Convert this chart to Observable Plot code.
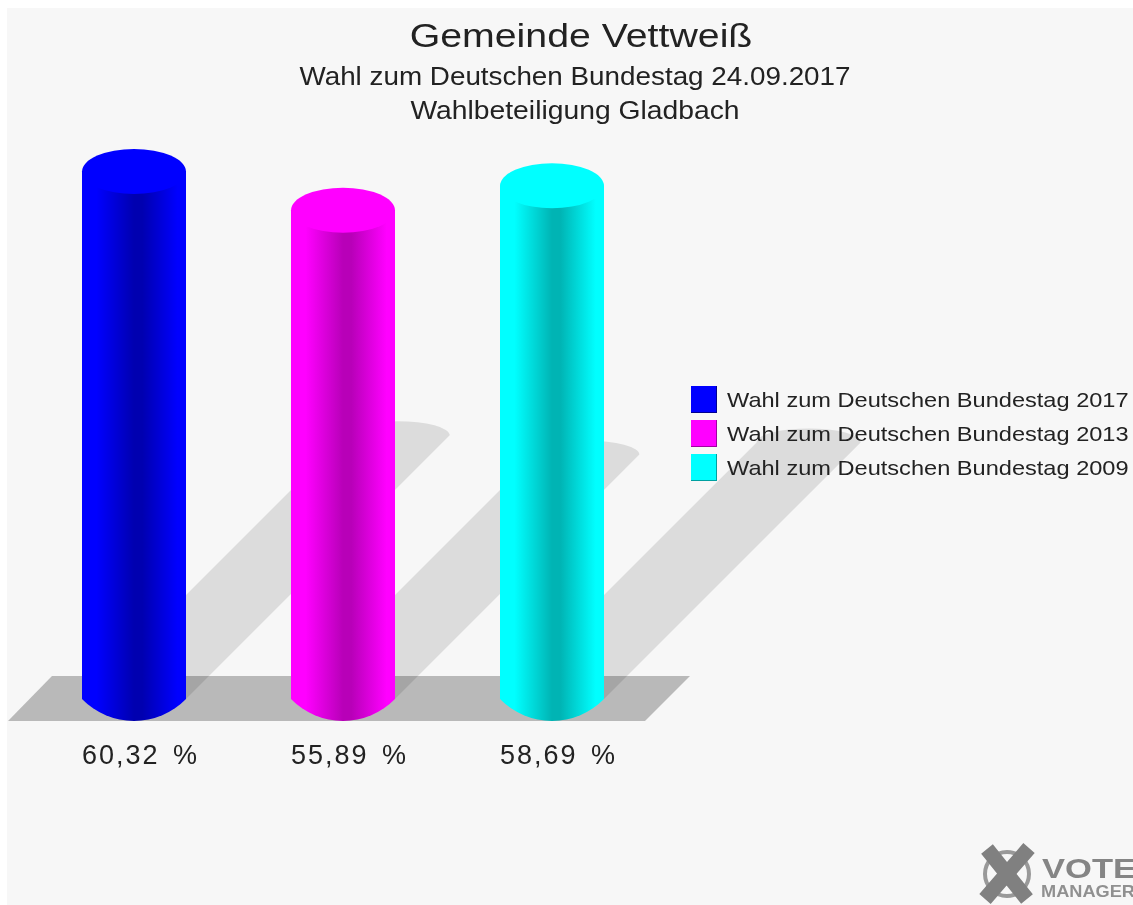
<!DOCTYPE html>
<html lang="de">
<head>
<meta charset="utf-8">
<script src="https://cdn.jsdelivr.net/npm/d3@7"></script>
<script src="https://cdn.jsdelivr.net/npm/@observablehq/plot@0.6"></script>
<style>
html,body{margin:0;padding:0;background:#fff;overflow:hidden}
#page{position:relative;width:1133px;height:905px;overflow:hidden;font-family:"Liberation Sans",Arial,sans-serif;color:#222;filter:blur(.45px)}
#panel{position:absolute;left:7px;top:8px;right:0;bottom:0;background:#f7f7f7}
#chart{position:absolute;left:0;top:0;width:1133px;height:905px}
#chart svg{display:block;max-width:none}
#chart text{letter-spacing:2px;word-spacing:4px}
.t{position:absolute;white-space:nowrap}
.lg{position:absolute;left:691px;height:27px;white-space:nowrap}
.lg i{position:absolute;left:0;top:0;display:block;width:26px;height:27px;box-sizing:border-box;border-right:1px solid;border-bottom:1px solid}
.lg span{position:absolute;left:36px;top:0;line-height:27px;font-size:21px;transform-origin:0 50%;transform:scaleX(1.123)}
#logo{position:absolute;left:0;top:0}
</style>
</head>
<body>
<div id="page">
<div id="panel"></div>
<div id="chart"></div>
<div class="t" style="left:581px;top:36px;font-size:33px;transform:translate(-50%,-50%) scaleX(1.19)">Gemeinde Vettweiß</div>
<div class="t" style="left:575px;top:76px;font-size:26px;transform:translate(-50%,-50%) scaleX(1.07)">Wahl zum Deutschen Bundestag 24.09.2017</div>
<div class="t" style="left:575px;top:110px;font-size:26px;transform:translate(-50%,-50%) scaleX(1.088)">Wahlbeteiligung Gladbach</div>
<div id="legend"></div>
<svg id="logo" width="1133" height="905">
  <circle cx="1007" cy="874" r="22" fill="none" stroke="#999" stroke-width="4"/>
  <path d="M987 849L1027 899M1029 848L985 899" stroke="#808080" stroke-width="15" fill="none"/>
  <text x="1042" y="878" font-family="Liberation Sans" font-weight="700" font-size="28" fill="#858585" textLength="94" lengthAdjust="spacingAndGlyphs">VOTE</text>
  <text x="1041" y="897" font-family="Liberation Sans" font-weight="700" font-size="16.5" fill="#909090" textLength="94" lengthAdjust="spacingAndGlyphs">MANAGER</text>
</svg>
</div>
<script>
const years = ["2017", "2013", "2009"];
const turnout = [60.32, 55.89, 58.69];
const valueLabels = ["60,32 %", "55,89 %", "58,69 %"];
const barColors = ["#0000ff", "#ff00ff", "#00ffff"];
const darkColors = ["#0000b0", "#b800b8", "#00b4b4"];
const edgeColors = ["#000090", "#a000a0", "#00a0a0"];
const legendLabels = [
  "Wahl zum Deutschen Bundestag 2017",
  "Wahl zum Deutschen Bundestag 2013",
  "Wahl zum Deutschen Bundestag 2009"
];
const legendTops = [386, 420, 454];

const rows = years.map((year, i) => ({year, value: turnout[i], label: valueLabels[i], i}));

const svgEl = (name) => document.createElementNS("http://www.w3.org/2000/svg", name);

function gradients() {
  const defs = d3.select(svgEl("defs"));
  rows.forEach(r => {
    const g = defs.append("linearGradient").attr("id", "cyl" + r.year);
    [[0, barColors[r.i]], [0.14, barColors[r.i]], [0.5, darkColors[r.i]], [0.58, darkColors[r.i]], [0.92, barColors[r.i]], [1, barColors[r.i]]]
      .forEach(([o, c]) => g.append("stop").attr("offset", o).attr("stop-color", c));
  });
  return defs.node();
}

function floor(index, {x, y}) {
  const left = x(years[0]), right = x(years[2]) + x.bandwidth();
  const y0 = y(0), bottom = y0 + 22, top = y0 - 23;
  const d = `M${left - 74},${bottom}L${left - 30},${top}L${right + 86},${top}L${right + 41},${bottom}Z`;
  return d3.select(svgEl("path")).attr("d", d).attr("fill", "#b9b9b9").node();
}

function shadows(index, {x, y}) {
  const g = d3.select(svgEl("g"));
  rows.forEach(r => {
    const x0 = x(r.year), x1 = x0 + x.bandwidth(), y0 = y(0);
    const s = (y0 - y(r.value)) / 2;
    g.append("path")
      .attr("d", `M${x0},${y0}L${x0 + s},${y0 - s}A${x.bandwidth() / 2},14 0 0 1 ${x1 + s},${y0 - s}L${x1},${y0}Z`)
      .attr("fill", "#000").attr("fill-opacity", 0.105);
  });
  return g.node();
}

function caps(index, {x, y}) {
  const g = d3.select(svgEl("g"));
  rows.forEach(r => {
    const x0 = x(r.year), w = x.bandwidth(), y0 = y(0);
    g.append("path")
      .attr("d", `M${x0},${y0}A72.5,72.5 0 0 0 ${x0 + w},${y0}Z`)
      .attr("fill", `url(#cyl${r.year})`);
    g.append("ellipse")
      .attr("cx", x0 + w / 2).attr("cy", y(r.value))
      .attr("rx", w / 2).attr("ry", 22.5)
      .attr("fill", barColors[r.i]);
  });
  return g.node();
}

const plot = Plot.plot({
  width: 1133,
  height: 905,
  margin: 0,
  style: {background: "transparent", overflow: "visible"},
  x: {axis: null, domain: years, range: [82, 604], paddingInner: 0.5024, paddingOuter: 0, round: false},
  y: {axis: null, domain: [0, 60.32], range: [699, 171.5]},
  color: {domain: years, range: years.map(y => `url(#cyl${y})`)},
  marks: [
    gradients,
    floor,
    shadows,
    Plot.barY(rows, {x: "year", y: "value", fill: "year"}),
    caps,
    Plot.text(rows, {
      x: "year", y: () => 0, text: "label", dx: 6, dy: 56,
      fontSize: 27, fill: "#222", fontFamily: "Liberation Sans"
    })
  ]
});
document.getElementById("chart").append(plot);

const legend = document.getElementById("legend");
legendLabels.forEach((text, i) => {
  const row = document.createElement("div");
  row.className = "lg";
  row.style.top = legendTops[i] + "px";
  const sw = document.createElement("i");
  sw.style.background = barColors[i];
  sw.style.borderColor = edgeColors[i];
  const label = document.createElement("span");
  label.textContent = text;
  row.append(sw, label);
  legend.append(row);
});
</script>
</body>
</html>
